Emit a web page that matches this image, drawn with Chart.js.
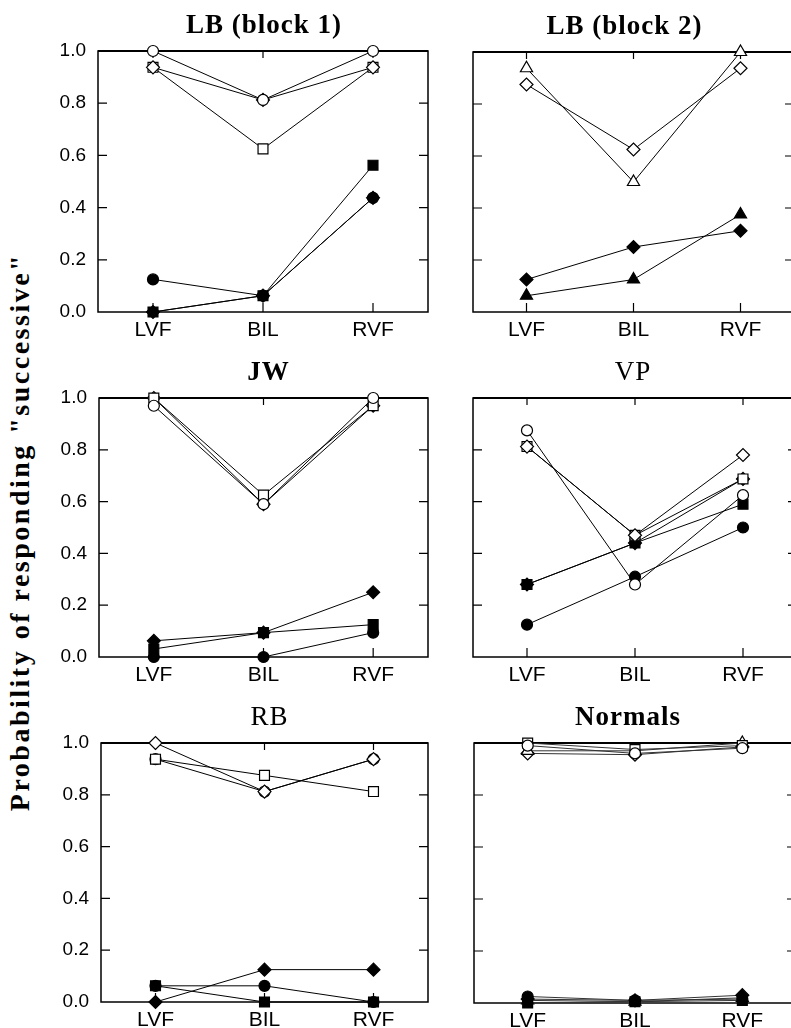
<!DOCTYPE html>
<html>
<head>
<meta charset="utf-8">
<script src="https://cdn.jsdelivr.net/npm/chart.js@4"></script>
<style>
  body { margin: 0; background: #fff; }
  #page { position: relative; width: 791px; height: 1028px; overflow: hidden; background: #fff; }
  #page canvas { position: absolute; }
  #ytitle {
    position: absolute; left: 20px; top: 532px;
    transform: translate(-50%, -50%) rotate(-90deg);
    font: bold 28px "Liberation Serif", "DejaVu Serif", serif;
    letter-spacing: 2.5px; white-space: nowrap; color: #000;
  }
</style>
</head>
<body>
<div id="page">
  <div id="ytitle">Probability of responding "successive"</div>
</div>
<script>
// Categories and y ticks
const categories = ['LVF', 'BIL', 'RVF'];
const yTicks = [0, 0.2, 0.4, 0.6, 0.8, 1.0];

// LB (block 1)
const lb1OpenCircle = [1.0, 0.8125, 1.0];
const lb1OpenDiamond = [0.9375, 0.8125, 0.9375];
const lb1OpenSquare = [0.9375, 0.625, 0.9375];
const lb1FilledCircle = [0.125, 0.0625, 0.4375];
const lb1FilledDiamond = [0.0, 0.0625, 0.4375];
const lb1FilledSquare = [0.0, 0.0625, 0.5625];

// LB (block 2)
const lb2OpenTriangle = [0.9375, 0.5, 1.0];
const lb2OpenDiamond = [0.875, 0.625, 0.9375];
const lb2FilledTriangle = [0.0625, 0.125, 0.375];
const lb2FilledDiamond = [0.125, 0.25, 0.3125];

// JW
const jwOpenCircle = [0.97, 0.59, 1.0];
const jwOpenSquare = [1.0, 0.625, 0.97];
const jwOpenDiamond = [1.0, 0.59, 0.97];
const jwFilledDiamond = [0.0625, 0.094, 0.25];
const jwFilledSquare = [0.031, 0.094, 0.125];
const jwFilledCircle = [0.0, 0.0, 0.094];

// VP
const vpOpenCircle = [0.875, 0.28, 0.625];
const vpOpenDiamond = [0.8125, 0.47, 0.78];
const vpOpenSquare = [0.8125, 0.47, 0.6875];
const vpFilledDiamond = [0.28, 0.44, 0.6875];
const vpFilledSquare = [0.28, 0.44, 0.59];
const vpFilledCircle = [0.125, 0.31, 0.5];

// RB
const rbOpenDiamond = [1.0, 0.8125, 0.9375];
const rbOpenSquare = [0.9375, 0.875, 0.8125];
const rbOpenCircle = [0.9375, 0.8125, 0.9375];
const rbFilledDiamond = [0.0, 0.125, 0.125];
const rbFilledCircle = [0.0625, 0.0625, 0.0];
const rbFilledSquare = [0.0625, 0.0, 0.0];

// Normals
const nOpenCircle = [0.99, 0.96, 0.98];
const nOpenSquare = [1.0, 0.975, 0.99];
const nOpenTriangle = [0.97, 0.97, 1.0];
const nOpenDiamond = [0.96, 0.955, 0.985];
const nFilledCircle = [0.025, 0.01, 0.015];
const nFilledSquare = [0.0, 0.005, 0.01];
const nFilledTriangle = [0.01, 0.005, 0.02];
const nFilledDiamond = [0.015, 0.01, 0.03];

// marker looks
const CIRCLE = { style: 'circle', r: 5.5 };
const SQUARE = { style: 'rect', r: 7 };
const DIAMOND = { style: 'rectRot', r: 6.5 };
const TRIANGLE = { style: 'triangle', r: 7 };

function s(data, mark, filled) { return { data, mark, filled }; }

const panels = [
  { title: 'LB (block 1)', weight: 'bold', showY: true, rect: { l: 98, t: 51, r: 428, b: 312 }, dx: 1,
    series: [s(lb1OpenCircle, CIRCLE, false), s(lb1OpenDiamond, DIAMOND, false), s(lb1OpenSquare, SQUARE, false),
             s(lb1FilledCircle, CIRCLE, true), s(lb1FilledDiamond, DIAMOND, true), s(lb1FilledSquare, SQUARE, true)] },
  { title: 'LB (block 2)', weight: 'bold', showY: false, rect: { l: 473, t: 52, r: 794, b: 312 }, dx: -9,
    series: [s(lb2OpenTriangle, TRIANGLE, false), s(lb2OpenDiamond, DIAMOND, false),
             s(lb2FilledTriangle, TRIANGLE, true), s(lb2FilledDiamond, DIAMOND, true)] },
  { title: 'JW', weight: 'bold', showY: true, rect: { l: 99, t: 398, r: 428, b: 657 }, dx: 5,
    series: [s(jwOpenCircle, CIRCLE, false), s(jwOpenSquare, SQUARE, false), s(jwOpenDiamond, DIAMOND, false),
             s(jwFilledDiamond, DIAMOND, true), s(jwFilledSquare, SQUARE, true), s(jwFilledCircle, CIRCLE, true)] },
  { title: 'VP', weight: 'normal', showY: false, rect: { l: 473, t: 398, r: 797, b: 657 }, dx: -2,
    series: [s(vpOpenCircle, CIRCLE, false), s(vpOpenDiamond, DIAMOND, false), s(vpOpenSquare, SQUARE, false),
             s(vpFilledDiamond, DIAMOND, true), s(vpFilledSquare, SQUARE, true), s(vpFilledCircle, CIRCLE, true)] },
  { title: 'RB', weight: 'normal', showY: true, rect: { l: 101, t: 743, r: 428, b: 1002 }, dx: 5,
    series: [s(rbOpenDiamond, DIAMOND, false), s(rbOpenSquare, SQUARE, false), s(rbOpenCircle, CIRCLE, false),
             s(rbFilledDiamond, DIAMOND, true), s(rbFilledCircle, CIRCLE, true), s(rbFilledSquare, SQUARE, true)] },
  { title: 'Normals', weight: 'bold', showY: false, rect: { l: 474, t: 743, r: 796, b: 1003 }, dx: -7,
    series: [s(nOpenCircle, CIRCLE, false), s(nOpenSquare, SQUARE, false), s(nOpenTriangle, TRIANGLE, false), s(nOpenDiamond, DIAMOND, false),
             s(nFilledCircle, CIRCLE, true), s(nFilledSquare, SQUARE, true), s(nFilledTriangle, TRIANGLE, true), s(nFilledDiamond, DIAMOND, true)] }
];

// box + inward ticks, drawn under the markers
const framePlugin = {
  id: 'frame',
  beforeDatasetsDraw(chart) {
    const { ctx, chartArea: a, scales } = chart;
    ctx.save();
    ctx.strokeStyle = '#000';
    ctx.lineWidth = 1.5;
    ctx.strokeRect(a.left, a.top, a.right - a.left, a.bottom - a.top);
    ctx.lineWidth = 2.2;
    ctx.beginPath(); ctx.moveTo(a.left, a.top); ctx.lineTo(a.right, a.top); ctx.stroke();
    ctx.lineWidth = 1.2;
    ctx.beginPath();
    yTicks.slice(1, -1).forEach(v => {
      const py = scales.y.getPixelForValue(v);
      ctx.moveTo(a.left, py); ctx.lineTo(a.left + 9, py);
      ctx.moveTo(a.right, py); ctx.lineTo(a.right - 9, py);
    });
    categories.forEach((c, i) => {
      const px = scales.x.getPixelForValue(i);
      ctx.moveTo(px, a.bottom); ctx.lineTo(px, a.bottom - 9);
      ctx.moveTo(px, a.top); ctx.lineTo(px, a.top + 7);
    });
    ctx.stroke();
    ctx.restore();
  }
};

function titlePlugin(p) {
  return {
    id: 'ptitle',
    afterDraw(chart) {
      const { ctx, chartArea: a } = chart;
      ctx.save();
      ctx.fillStyle = '#000';
      ctx.font = p.weight + ' 27px "Liberation Serif", serif';
      ctx.letterSpacing = '1px';
      ctx.textAlign = 'center';
      ctx.textBaseline = 'alphabetic';
      ctx.fillText(p.title, (a.left + a.right) / 2 + p.dx, a.top - 18);
      ctx.restore();
    }
  };
}

const page = document.getElementById('page');
const padL = 70, padT = 60, padR = 12, padB = 36;

panels.forEach(p => {
  const rc = p.rect;
  const cv = document.createElement('canvas');
  cv.width = rc.r - rc.l + padL + padR;
  cv.height = rc.b - rc.t + padT + padB;
  cv.style.left = (rc.l - padL) + 'px';
  cv.style.top = (rc.t - padT) + 'px';
  page.appendChild(cv);

  const lineColor = p.title === 'Normals' ? '#333' : '#000';
  new Chart(cv, {
    type: 'line',
    data: {
      labels: categories,
      datasets: p.series.map(ser => ({
        data: ser.data,
        borderColor: lineColor,
        borderWidth: 1,
        tension: 0,
        pointStyle: ser.mark.style,
        pointRadius: ser.mark.r,
        pointBorderWidth: 1.2,
        pointBorderColor: '#000',
        pointBackgroundColor: ser.filled ? '#000' : '#fff',
        clip: false
      }))
    },
    options: {
      responsive: false,
      animation: false,
      devicePixelRatio: 1,
      layout: { padding: { top: padT, right: padR, left: 0, bottom: 0 } },
      plugins: { legend: { display: false }, tooltip: { enabled: false } },
      scales: {
        x: {
          offset: true,
          grid: { display: false },
          border: { display: false },
          ticks: { color: '#000', font: { family: '"Liberation Sans", Arial', size: 21 }, padding: -2, maxRotation: 0 },
          afterFit: sc => { sc.height = padB; }
        },
        y: {
          min: 0, max: 1,
          afterBuildTicks: sc => { sc.ticks = yTicks.map(v => ({ value: v })); },
          grid: { display: false },
          border: { display: false },
          ticks: {
            display: p.showY, color: '#000', padding: 4,
            font: { family: '"Liberation Sans", Arial', size: 19 },
            callback: v => v.toFixed(1)
          },
          afterFit: sc => { sc.width = padL; }
        }
      }
    },
    plugins: [framePlugin, titlePlugin(p)]
  });
});
</script>
</body>
</html>
